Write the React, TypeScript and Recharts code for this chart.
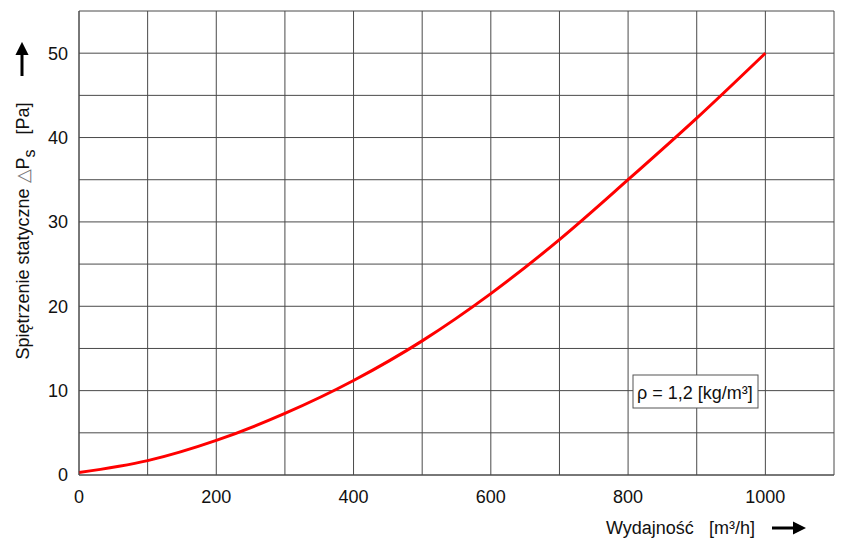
import React from 'react';
import { LineChart, Line, XAxis, YAxis, CartesianGrid } from 'recharts';

// flow rate [m3/h] and static pressure rise [Pa]
const flow = [0, 100, 200, 300, 400, 500, 600, 700, 800, 900, 1000];
const pressure = [0.3, 1.7, 4.1, 7.3, 11.2, 15.9, 21.5, 27.9, 35.0, 42.3, 50.0];

const xTicks = [0, 100, 200, 300, 400, 500, 600, 700, 800, 900, 1000, 1100];
const yTicks = [0, 5, 10, 15, 20, 25, 30, 35, 40, 45, 50, 55];
const xLabelled = [0, 200, 400, 600, 800, 1000];
const yLabelled = [0, 10, 20, 30, 40, 50];

const data = flow.map((q, i) => ({ q, p: pressure[i] }));

const font = '"Liberation Sans", Arial, sans-serif';
const tickStyle = { fontSize: 18, fill: '#111', fontFamily: font };

export default function App() {
  return (
    <div style={{ position: 'absolute', left: 0, top: 0, width: 850, height: 545, background: '#fff' }}>
      <LineChart width={850} height={545} data={data} margin={{ top: 11, right: 16, left: 0, bottom: 0 }}>
        <CartesianGrid stroke="#4a4a4a" strokeWidth={1} />
        <XAxis
          dataKey="q"
          type="number"
          domain={[0, 1100]}
          ticks={xTicks}
          interval={0}
          height={70}
          tickLine={false}
          axisLine={{ stroke: '#4a4a4a' }}
          tickMargin={9}
          tick={tickStyle}
          tickFormatter={(v: number) => (xLabelled.includes(v) ? String(v) : '')}
        />
        <YAxis
          type="number"
          domain={[0, 55]}
          ticks={yTicks}
          interval={0}
          width={79}
          tickLine={false}
          axisLine={{ stroke: '#4a4a4a' }}
          tickMargin={5}
          tick={tickStyle}
          tickFormatter={(v: number) => (yLabelled.includes(v) ? String(v) : '')}
        />
        <Line
          dataKey="p"
          type="monotone"
          stroke="#ff0000"
          strokeWidth={3}
          dot={false}
          isAnimationActive={false}
        />
      </LineChart>
      <svg
        width={850}
        height={545}
        style={{ position: 'absolute', left: 0, top: 0, pointerEvents: 'none', fontFamily: font }}
      >
        <defs>
          <marker id="head" viewBox="0 0 10 10" refX="1" refY="5" markerWidth="4.5" markerHeight="4.5" orient="auto">
            <path d="M0,0 L10,5 L0,10 z" fill="#000" />
          </marker>
        </defs>
        {/* y axis title + arrow */}
        <line x1={22} y1={76} x2={22} y2={54} stroke="#000" strokeWidth={3} markerEnd="url(#head)" />
        <text transform="translate(29,231) rotate(-90)" textAnchor="middle" fontSize={18} fill="#111">
          Spiętrzenie statyczne <tspan fill="#777">△</tspan>P<tspan fontSize={16} dy={6}>s</tspan>
          <tspan dy={-6} xmlSpace="preserve">{'   '}[Pa]</tspan>
        </text>
        {/* x axis title + arrow */}
        <text x={606} y={534} fontSize={18} fill="#111">Wydajność</text>
        <text x={709} y={534} fontSize={18} fill="#111">[m³/h]</text>
        <line x1={772} y1={528} x2={794} y2={528} stroke="#000" strokeWidth={3} markerEnd="url(#head)" />
        {/* density note */}
        <rect x={633} y={375} width={125} height={33} fill="#fff" stroke="#555" strokeWidth={1} />
        <text x={637} y={399} fontSize={18} fill="#111">
          ρ = 1,2 [kg/m³]
        </text>
      </svg>
    </div>
  );
}
